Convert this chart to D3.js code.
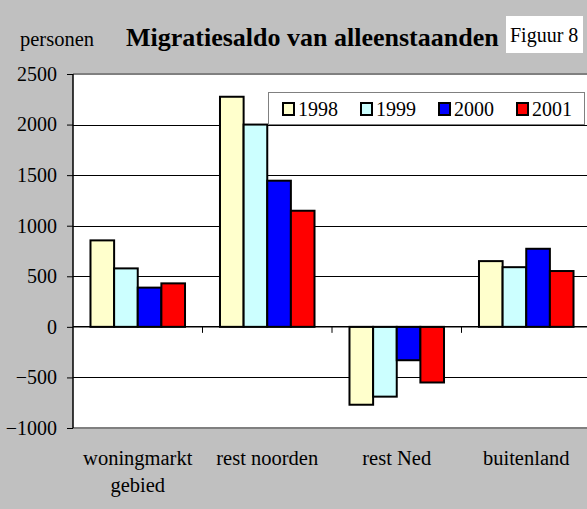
<!DOCTYPE html>
<meta charset="utf-8">
<style>
body { margin: 0; }
svg { display: block; font-family: "Liberation Serif", "Times New Roman", serif; }
.axis text { font-size: 20px; fill: #000; }
.grid line { stroke: #000; stroke-width: 1; }
</style>
<svg width="587" height="509"></svg>
<script src="https://d3js.org/d3.v7.min.js"></script>
<script>

var categories = [["woningmarkt", "gebied"], ["rest noorden"], ["rest Ned"], ["buitenland"]],
    years = ["1998", "1999", "2000", "2001"],
    colors = ["#ffffcc", "#ccffff", "#0000ff", "#ff0000"],
    yTicks = [-1000, -500, 0, 500, 1000, 1500, 2000, 2500];

// one array per year, in category order
var v1998 = [855, 2275, -770, 650],
    v1999 = [578, 2000, -690, 590],
    v2000 = [388, 1445, -330, 772],
    v2001 = [430, 1148, -550, 552];
var series = [v1998, v1999, v2000, v2001];

var svg = d3.select("svg"),
    plot = {left: 73, right: 591, top: 74, bottom: 428};

svg.append("rect")
    .attr("width", 587).attr("height", 509)
    .attr("fill", "#c0c0c0");

var cats = categories.map(function(c) { return c.join(" "); });

var x0 = d3.scaleBand().domain(cats).range([plot.left, plot.right]),
    x1 = d3.scaleBand().domain(years).range([0, x0.bandwidth()]).paddingOuter(0.74),
    y = d3.scaleLinear().domain([-1000, 2500]).range([plot.bottom, plot.top]);

// plot area
svg.append("rect")
    .attr("x", plot.left).attr("y", plot.top)
    .attr("width", plot.right - plot.left).attr("height", plot.bottom - plot.top)
    .attr("fill", "#fff");

svg.append("g")
    .attr("class", "grid")
  .selectAll("line")
  .data(yTicks.filter(function(d) { return d !== 0 && d !== -1000 && d !== 2500; }))
  .enter().append("line")
    .attr("x1", plot.left).attr("x2", plot.right)
    .attr("y1", function(d) { return Math.round(y(d)) + 0.5; })
    .attr("y2", function(d) { return Math.round(y(d)) + 0.5; });

// plot border top/bottom
svg.append("line")
    .attr("x1", plot.left).attr("x2", plot.right)
    .attr("y1", plot.top).attr("y2", plot.top)
    .attr("stroke", "#808080").attr("stroke-width", 2);
svg.append("line")
    .attr("x1", plot.left).attr("x2", plot.right)
    .attr("y1", plot.bottom).attr("y2", plot.bottom)
    .attr("stroke", "#808080").attr("stroke-width", 2);

// bars
var groups = svg.append("g").selectAll("g")
  .data(cats)
  .enter().append("g")
    .attr("transform", function(d) { return "translate(" + x0(d) + ",0)"; });

groups.selectAll("rect")
  .data(function(d, i) { return series.map(function(s, j) { return {year: years[j], value: s[i], color: colors[j]}; }); })
  .enter().append("rect")
    .attr("x", function(d) { return x1(d.year); })
    .attr("width", x1.bandwidth())
    .attr("y", function(d) { return y(Math.max(0, d.value)); })
    .attr("height", function(d) { return Math.abs(y(d.value) - y(0)); })
    .attr("fill", function(d) { return d.color; })
    .attr("stroke", "#000")
    .attr("stroke-width", 2);

// y axis
var yAxis = svg.append("g")
    .attr("class", "axis")
    .attr("transform", "translate(" + plot.left + ",0)")
    .call(d3.axisLeft(y).tickValues(yTicks).tickSize(6).tickPadding(10).tickFormat(d3.format("d")));
yAxis.select(".domain").attr("stroke", "#000").attr("stroke-width", 1.5)
    .attr("d", "M0," + plot.top + "V" + plot.bottom);
yAxis.selectAll("line").attr("stroke", "#000");
yAxis.selectAll("text").attr("font-family", "Liberation Serif");

// zero axis with category ticks
var xAxis = svg.append("g")
    .attr("transform", "translate(0," + y(0) + ")");
xAxis.append("line")
    .attr("x1", plot.left).attr("x2", plot.right)
    .attr("stroke", "#000").attr("stroke-width", 1.5);
xAxis.selectAll(".tk")
  .data(cats.slice(1))
  .enter().append("line")
    .attr("x1", function(d) { return x0(d); })
    .attr("x2", function(d) { return x0(d); })
    .attr("y1", 0).attr("y2", 6)
    .attr("stroke", "#000");

// category labels
var labels = svg.append("g").selectAll("text")
  .data(categories)
  .enter().append("text")
    .attr("x", function(d, i) { return x0(cats[i]) + x0.bandwidth() / 2; })
    .attr("y", 465)
    .attr("text-anchor", "middle")
    .attr("font-size", 20.5);
labels.selectAll("tspan")
  .data(function(d) { return d; })
  .enter().append("tspan")
    .attr("x", function() { return d3.select(this.parentNode).attr("x"); })
    .attr("dy", function(d, i) { return i ? 27 : 0; })
    .text(function(d) { return d; });

// titles
svg.append("text")
    .attr("x", 20).attr("y", 46)
    .attr("font-size", 20.5)
    .text("personen");
svg.append("text")
    .attr("x", 126).attr("y", 46)
    .attr("font-size", 26).attr("font-weight", "bold")
    .text("Migratiesaldo van alleenstaanden");
svg.append("rect")
    .attr("x", 506).attr("y", 16).attr("width", 77).attr("height", 37)
    .attr("fill", "#fff");
svg.append("text")
    .attr("x", 510).attr("y", 42)
    .attr("font-size", 20)
    .text("Figuur 8");

// legend
var legend = svg.append("g").attr("transform", "translate(268,92)");
legend.append("rect")
    .attr("x", 0.5).attr("y", 0.5).attr("width", 316).attr("height", 32)
    .attr("fill", "#fff").attr("stroke", "#808080");
var li = legend.selectAll(".li")
  .data(years)
  .enter().append("g")
    .attr("transform", function(d, i) { return "translate(" + (15 + i * 78) + ",0)"; });
li.append("rect")
    .attr("x", 0).attr("y", 11).attr("width", 11).attr("height", 12)
    .attr("fill", function(d, i) { return colors[i]; })
    .attr("stroke", "#000").attr("stroke-width", 2);
li.append("text")
    .attr("x", 15).attr("y", 24)
    .attr("font-size", 20)
    .text(function(d) { return d; });

</script>
